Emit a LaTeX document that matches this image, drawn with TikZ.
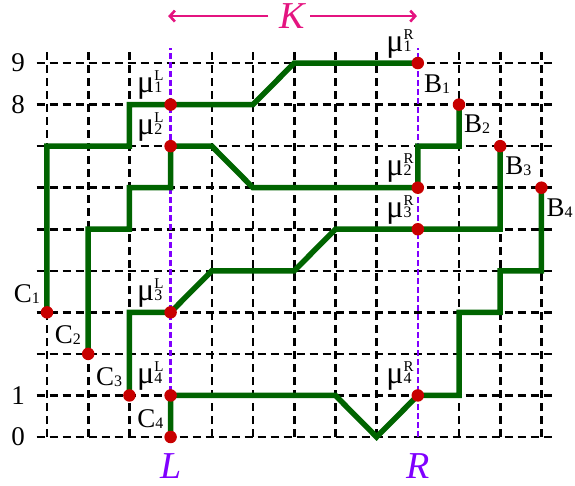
\documentclass[tikz,border=0pt]{standalone}
\usepackage{fontspec}
\setmainfont{Liberation Serif}
\usetikzlibrary{arrows.meta}
\definecolor{pathgreen}{RGB}{0,100,0}
\definecolor{dotred}{RGB}{200,0,0}
\definecolor{lrviolet}{RGB}{128,0,255}
\definecolor{kpink}{RGB}{228,20,128}
\newcommand{\sublab}[2]{#1\raisebox{-1pt}{\fontsize{16}{16}\selectfont #2}}
\newcommand{\mulab}[2]{{\fontsize{32}{32}\selectfont μ}\makebox[0pt][l]{\raisebox{12pt}{\fontsize{15}{15}\selectfont #1}}{\fontsize{16}{16}\selectfont #2}}
\tikzset{
  gridline/.style={black, line width=2.6pt, dash pattern=on 8pt off 5pt},
  lrline/.style={lrviolet, line width=2.4pt, dash pattern=on 6pt off 3pt},
  greenpath/.style={pathgreen, line width=5.5pt, line join=miter},
  dot/.style={circle, fill=dotred, inner sep=0pt, minimum size=12.5pt},
  lbl/.style={inner sep=0pt, font=\fontsize{27}{30}\selectfont},
  mulbl/.style={inner sep=0pt, font=\fontsize{27}{30}\selectfont},
  lrlabel/.style={inner sep=0pt, text=lrviolet, font=\fontsize{38}{40}\selectfont\itshape},
  klabel/.style={inner sep=2pt, text=kpink, font=\fontsize{38}{40}\selectfont\itshape},
  karrow/.style={kpink, line width=2.6pt, -{Straight Barb[length=5pt, width=11pt, line width=2.6pt]}},
}
\begin{document}
\begin{tikzpicture}[x=41.2pt, y=41.55pt]
\useasboundingbox (-47pt,-48pt) rectangle ++(575pt,485pt);
% grid
\foreach \j in {0,...,9} \draw[gridline] (-0.25,\j) -- (12.25,\j);
\foreach \i in {0,1,2,4,5,6,7,8,10,11,12} \draw[gridline] (\i,0) -- (\i,9.36);
\draw[lrline] (3,0) -- (3,9.36);
\draw[lrline] (9,0) -- (9,9.36);
% points
\coordinate (C1) at (0,3);
\coordinate (C2) at (1,2);
\coordinate (C3) at (2,1);
\coordinate (C4) at (3,0);
\coordinate (muL1) at (3,8);
\coordinate (muL2) at (3,7);
\coordinate (muL3) at (3,3);
\coordinate (muL4) at (3,1);
\coordinate (muR1) at (9,9);
\coordinate (muR2) at (9,6);
\coordinate (muR3) at (9,5);
\coordinate (muR4) at (9,1);
\coordinate (B2) at (10,8);
\coordinate (B3) at (11,7);
\coordinate (B4) at (12,6);
% paths
\draw[greenpath] (C1) -- (0,7) -- (2,7) -- (2,8) -- (muL1) -- (5,8) -- (6,9) -- (muR1);
\draw[greenpath] (C2) -- (1,5) -- (2,5) -- (2,6) -- (3,6) -- (muL2) -- (4,7) -- (5,6) -- (muR2) -- (9,7) -- (10,7) -- (B2);
\draw[greenpath] (C3) -- (2,3) -- (muL3) -- (4,4) -- (6,4) -- (7,5) -- (muR3) -- (11,5) -- (B3);
\draw[greenpath] (C4) -- (muL4) -- (7,1) -- (8,0) -- (muR4) -- (10,1) -- (10,3) -- (11,3) -- (11,4) -- (12,4) -- (B4);
% dots
\foreach \p in {C1,C2,C3,C4,muL1,muL2,muL3,muL4,muR1,muR2,muR3,muR4,B2,B3,B4}
  \node[dot] (dot\p) at (\p) {};
% labels C
\foreach \k in {1,2,3,4}
  \node[lbl, anchor=base east, xshift=-7pt, yshift=10pt] (labC\k) at (C\k) {\sublab{C}{\k}};
% labels mu
\foreach \k in {1,2,3,4} {
  \node[mulbl, anchor=base east, xshift=-8pt, yshift=12pt] (labmuL\k) at (muL\k) {\mulab{L}{\k}};
  \node[mulbl, anchor=base east, xshift=-6pt, yshift=12pt] (labmuR\k) at (muR\k) {\mulab{R}{\k}};
}
% labels B
\node[lbl, anchor=base west, xshift=6pt, yshift=-29pt] (labB1) at (muR1) {\sublab{B}{1}};
\node[lbl, anchor=base west, xshift=5pt, yshift=-28pt] (labB2) at (B2) {\sublab{B}{2}};
\node[lbl, anchor=base west, xshift=5pt, yshift=-28pt] (labB3) at (B3) {\sublab{B}{3}};
\node[lbl, anchor=base west, xshift=5pt, yshift=-29pt] (labB4) at (B4) {\sublab{B}{4}};
% axis numbers
\node[lbl] (y9) at (-0.70,9) {9};
\node[lbl] (y8) at (-0.70,8) {8};
\node[lbl] (y1) at (-0.70,1) {1};
\node[lbl] (y0) at (-0.70,0) {0};
% L and R
\node[lrlabel, anchor=base, yshift=-41pt] (labL) at (3,0) {L};
\node[lrlabel, anchor=base, yshift=-41pt] (labR) at (9,0) {R};
% K
\node[klabel] (K) at (5.95,10.13) {K};
\coordinate (Kleft) at (2.94,10.13);
\coordinate (Kright) at (8.98,10.13);
\draw[karrow] ([xshift=-9pt]K.west) -- (Kleft);
\draw[karrow] ([xshift=3pt]K.east) -- (Kright);
\end{tikzpicture}
\end{document}
